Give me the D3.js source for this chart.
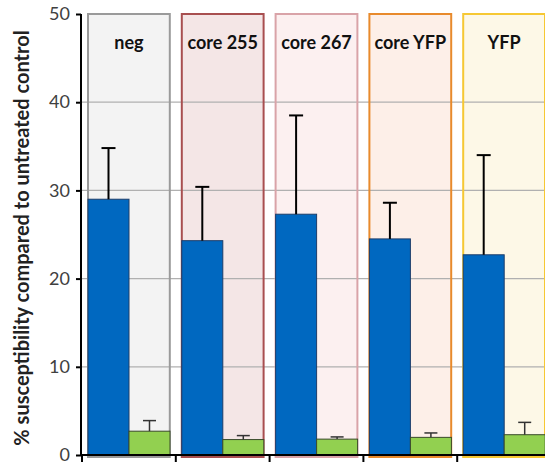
<!DOCTYPE html>
<html>
<head>
<script src="https://cdn.jsdelivr.net/npm/d3@7"></script>
<style>
  body { margin: 0; background: #fff; }
  text { font-family: Lato, "Open Sans", sans-serif; }
</style>
</head>
<body>
<svg id="chart" width="545" height="464"></svg>
<script>
// data
var groups = ["neg", "core 255", "core 267", "core YFP", "YFP"];
var blueValues = [29.0, 24.3, 27.3, 24.5, 22.7];
var blueErrors = [5.8, 6.1, 11.2, 4.1, 11.3];
var greenValues = [2.7, 1.75, 1.8, 2.0, 2.3];
var greenErrors = [1.2, 0.45, 0.25, 0.5, 1.4];
var yTicks = [0, 10, 20, 30, 40, 50];
var boxFills = ["#f3f3f3", "#f4e6e6", "#fcf0f0", "#fdefe8", "#fdf8e7"];
var boxStrokes = ["#9a9a9a", "#a84f50", "#d9a3a8", "#e88a2c", "#f6c833"];

var svg = d3.select("#chart");
// plot continues past the right edge of the picture (cropped)
var x = d3.scaleBand().domain(groups).range([82, 551]).paddingInner(0).paddingOuter(0);
var y = d3.scaleLinear().domain([0, 50]).range([455, 14]);
var bw = x.bandwidth();

// background boxes per group
svg.selectAll("rect.box")
   .data(groups)
   .enter().append("rect")
   .attr("class", "box")
   .attr("x", function(d) { return x(d) + 6; })
   .attr("y", y(50))
   .attr("width", bw - 12)
   .attr("height", y(0) - y(50) + 2)
   .attr("fill", function(d, i) { return boxFills[i]; })
   .attr("stroke", "none");

// gridlines
svg.selectAll("line.grid")
   .data(yTicks.filter(function(t) { return t > 0 && t < 50; }))
   .enter().append("line")
   .attr("x1", 82).attr("x2", 545)
   .attr("y1", function(d) { return y(d); })
   .attr("y2", function(d) { return y(d); })
   .attr("stroke", "#b0b0b0").attr("stroke-width", 1.2);

// box borders
svg.selectAll("rect.boxline")
   .data(groups)
   .enter().append("rect")
   .attr("x", function(d) { return x(d) + 6; })
   .attr("y", y(50))
   .attr("width", bw - 12)
   .attr("height", y(0) - y(50) + 2)
   .attr("fill", "none")
   .attr("stroke", function(d, i) { return boxStrokes[i]; })
   .attr("stroke-width", 2);

// group labels
svg.selectAll("text.grp")
   .data(groups)
   .enter().append("text")
   .attr("x", function(d) { return x(d) + 6 + (bw - 12) / 2; })
   .attr("y", 49)
   .attr("text-anchor", "middle")
   .attr("font-size", "18px")
   .attr("font-weight", "bold")
   .attr("fill", "#111")
   .text(function(d) { return d; });

var barW = 41;
// blue bars
svg.selectAll("rect.blue")
   .data(blueValues)
   .enter().append("rect")
   .attr("x", function(d, i) { return x(groups[i]) + 6; })
   .attr("y", function(d) { return y(d); })
   .attr("width", barW)
   .attr("height", function(d) { return y(0) - y(d); })
   .attr("fill", "#0068c0")
   .attr("stroke", "#1d3e6a").attr("stroke-width", 1);

// green bars
svg.selectAll("rect.green")
   .data(greenValues)
   .enter().append("rect")
   .attr("x", function(d, i) { return x(groups[i]) + 6 + barW; })
   .attr("y", function(d) { return y(d); })
   .attr("width", barW)
   .attr("height", function(d) { return y(0) - y(d); })
   .attr("fill", "#92d050")
   .attr("stroke", "#3a4a2a").attr("stroke-width", 1);

// error bars (upper only)
function errorBars(vals, errs, offset, cap, color, sw) {
  var g = svg.append("g");
  vals.forEach(function(v, i) {
    var cx = x(groups[i]) + offset;
    g.append("line")
     .attr("x1", cx).attr("x2", cx)
     .attr("y1", y(v)).attr("y2", y(v + errs[i]))
     .attr("stroke", color).attr("stroke-width", sw);
    g.append("line")
     .attr("x1", cx - cap / 2).attr("x2", cx + cap / 2)
     .attr("y1", y(v + errs[i])).attr("y2", y(v + errs[i]))
     .attr("stroke", color).attr("stroke-width", sw);
  });
}
errorBars(blueValues, blueErrors, 6 + barW / 2, 14, "#000", 2);
errorBars(greenValues, greenErrors, 6 + barW * 1.5, 13, "#333", 1.5);

// axes
var yAxis = svg.append("g")
   .attr("transform", "translate(81,0)")
   .call(d3.axisLeft(y).tickValues(yTicks).tickSize(5).tickPadding(6));
yAxis.select(".domain").attr("stroke", "#000").attr("stroke-width", 2).attr("d", "M0," + y(50) + "V" + y(0));
yAxis.selectAll(".tick line").attr("stroke", "#000").attr("stroke-width", 2);
yAxis.selectAll(".tick text").attr("font-size", "18px").attr("fill", "#404040")
   .attr("font-family", "Lato, 'Open Sans', sans-serif");

var xAxis = svg.append("g")
   .attr("transform", "translate(0," + y(0) + ")");
xAxis.append("line").attr("x1", 80).attr("x2", 545).attr("y1", 0).attr("y2", 0)
   .attr("stroke", "#000").attr("stroke-width", 2);
xAxis.selectAll("line.tk")
   .data(groups)
   .enter().append("line")
   .attr("x1", function(d) { return x(d); })
   .attr("x2", function(d) { return x(d); })
   .attr("y1", 0).attr("y2", 7)
   .attr("stroke", "#000").attr("stroke-width", 2);

// y title
svg.append("text")
   .attr("transform", "rotate(-90)")
   .attr("x", -238)
   .attr("y", 29)
   .attr("text-anchor", "middle")
   .attr("font-size", "20px")
   .attr("font-weight", "bold")
   .attr("fill", "#222")
   .text("% susceptibility compared to untreated control");
</script>
</body>
</html>
